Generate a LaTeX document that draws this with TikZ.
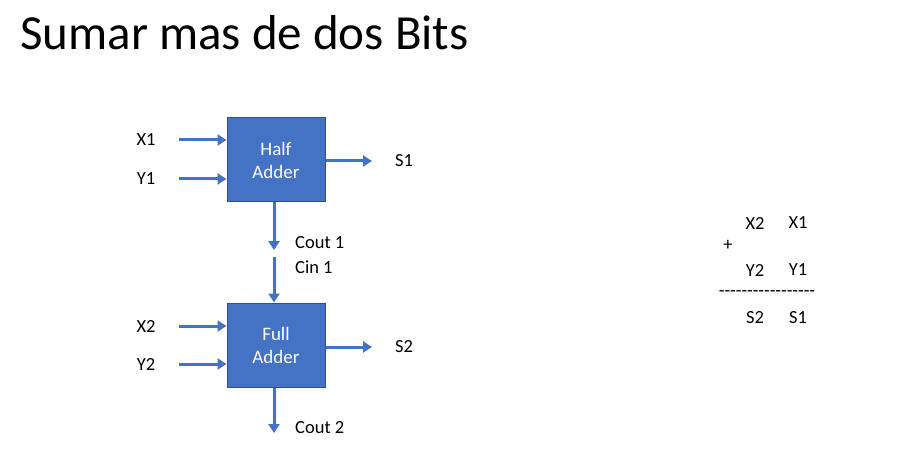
\documentclass[tikz,border=0pt]{standalone}
\usepackage{fontspec}
\setmainfont{Carlito}
\usetikzlibrary{arrows.meta}
\definecolor{boxblue}{HTML}{4472C4}
\definecolor{boxedge}{HTML}{2F528F}
\newcommand{\onedash}{\mbox{-}}
\tikzset{
  adder/.style={draw=boxedge, line width=1pt, fill=boxblue, minimum width=98pt, minimum height=84pt, inner sep=0pt, text=white, align=center, font=\fontsize{19}{23}\selectfont},
  lbl/.style={font=\fontsize{18.5}{22}\selectfont, inner sep=0pt},
  wire/.style={draw=boxblue, line width=3pt, -{Triangle[length=9pt,width=11pt]}},
}
\begin{document}
\begin{tikzpicture}[x=1pt,y=-1pt]
\useasboundingbox (0,0) rectangle (902,449);
\node[anchor=west, inner sep=0pt, font=\fontsize{49}{55}\selectfont] (title) at (20,33) {Sumar mas de dos Bits};

\node[adder] (ha) at (276,160) {Half\\Adder};
\node[adder] (fa) at (276,345) {Full\\Adder};

\node[lbl] (x1) at (146,140) {X1};
\node[lbl] (y1) at (146,179) {Y1};
\node[lbl] (x2) at (146,326) {X2};
\node[lbl] (y2) at (146,364) {Y2};
\node[lbl] (s1) at (404,161) {S1};
\node[lbl] (s2) at (404,347) {S2};
\node[lbl, anchor=west] (cout1) at (295,243) {Cout 1};
\node[lbl, anchor=west] (cin1) at (295,267) {Cin 1};
\node[lbl, anchor=west] (cout2) at (295,428) {Cout 2};

\coordinate (x1s) at (179,140);
\coordinate (y1s) at (179,179);
\coordinate (x2s) at (179,326);
\coordinate (y2s) at (179,364);
\coordinate (s1e) at (372,161);
\coordinate (s2e) at (372,347);
\coordinate (c1e) at (274,250);
\coordinate (c1s) at (274,257);
\coordinate (c2e) at (274,433);

\draw[wire] (x1s) -- (x1s -| ha.west);
\draw[wire] (y1s) -- (y1s -| ha.west);
\draw[wire] (x2s) -- (x2s -| fa.west);
\draw[wire] (y2s) -- (y2s -| fa.west);
\draw[wire] (s1e -| ha.east) -- (s1e);
\draw[wire] (s2e -| fa.east) -- (s2e);
\draw[wire] (c1e |- ha.south) -- (c1e);
\draw[wire] (c1s) -- (c1s |- fa.north);
\draw[wire] (c2e |- fa.south) -- (c2e);

\node[lbl] (rx2) at (755,223) {X2};
\node[lbl] (rx1) at (798,223) {X1};
\node[lbl] (plus) at (728,245) {+};
\node[lbl] (ry2) at (755,270) {Y2};
\node[lbl] (ry1) at (798,270) {Y1};
\node[lbl] (dash) at (767,294) {\onedash\onedash\onedash\onedash\onedash\onedash\onedash\onedash\onedash\onedash\onedash\onedash\onedash\onedash\onedash\onedash\onedash};
\node[lbl] (rs2) at (755,318) {S2};
\node[lbl] (rs1) at (798,318) {S1};
\end{tikzpicture}
\end{document}
